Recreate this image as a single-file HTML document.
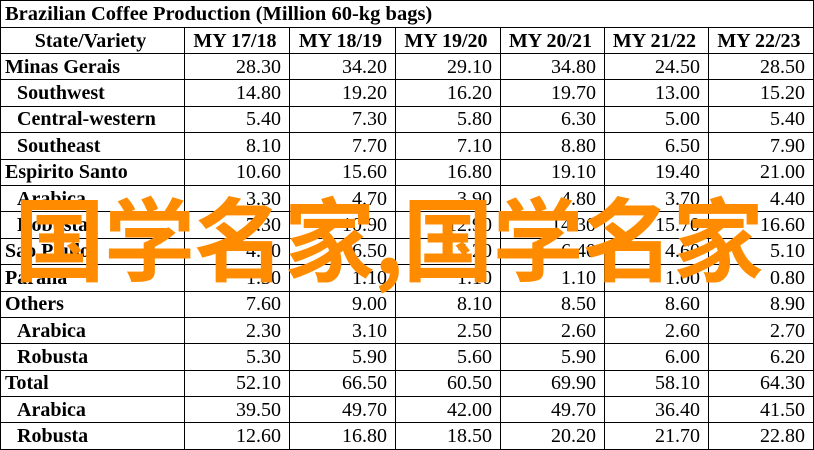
<!DOCTYPE html>
<html><head><meta charset="utf-8"><style>
body{margin:0;width:814px;height:449px;background:#fff;overflow:hidden;position:relative;font-family:"Liberation Serif",serif;}
table{position:absolute;left:0;top:0;border-collapse:collapse;table-layout:fixed;}
td{border:1.5px solid #000;height:25.4px;padding:0 8px 0 4px;font-size:20px;line-height:20px;text-align:right;white-space:nowrap;color:#000;overflow:hidden;}
td.l{text-align:left;font-weight:bold;}
td.i{text-align:left;font-weight:bold;padding-left:16px;}
tr.h td{font-weight:bold;text-align:center;height:25px;}
tr.t td{font-weight:bold;text-align:left;font-size:20.5px;height:26px;}
.wm{position:absolute;left:14px;top:180px;font-family:"Noto Sans CJK SC",sans-serif;font-weight:bold;font-size:91px;line-height:110px;color:#ff8c00;white-space:nowrap;letter-spacing:-1px;}
</style></head><body>
<table>
<colgroup><col style="width:184px"><col style="width:105px"><col style="width:106px"><col style="width:105px"><col style="width:104px"><col style="width:104px"><col style="width:105px"></colgroup>
<tr class="t"><td colspan="7">Brazilian Coffee Production (Million 60-kg bags)</td></tr>
<tr class="h"><td>State/Variety</td><td>MY 17/18</td><td>MY 18/19</td><td>MY 19/20</td><td>MY 20/21</td><td>MY 21/22</td><td>MY 22/23</td></tr>
<tr><td class="l">Minas Gerais</td><td>28.30</td><td>34.20</td><td>29.10</td><td>34.80</td><td>24.50</td><td>28.50</td></tr>
<tr><td class="i">Southwest</td><td>14.80</td><td>19.20</td><td>16.20</td><td>19.70</td><td>13.00</td><td>15.20</td></tr>
<tr><td class="i">Central-western</td><td>5.40</td><td>7.30</td><td>5.80</td><td>6.30</td><td>5.00</td><td>5.40</td></tr>
<tr><td class="i">Southeast</td><td>8.10</td><td>7.70</td><td>7.10</td><td>8.80</td><td>6.50</td><td>7.90</td></tr>
<tr><td class="l">Espirito Santo</td><td>10.60</td><td>15.60</td><td>16.80</td><td>19.10</td><td>19.40</td><td>21.00</td></tr>
<tr><td class="i">Arabica</td><td>3.30</td><td>4.70</td><td>3.90</td><td>4.80</td><td>3.70</td><td>4.40</td></tr>
<tr><td class="i">Robusta</td><td>7.30</td><td>10.90</td><td>12.90</td><td>14.30</td><td>15.70</td><td>16.60</td></tr>
<tr><td class="l">Sao Paulo</td><td>4.60</td><td>6.50</td><td>5.20</td><td>6.40</td><td>4.60</td><td>5.10</td></tr>
<tr><td class="l">Parana</td><td>1.30</td><td>1.10</td><td>1.10</td><td>1.10</td><td>1.00</td><td>0.80</td></tr>
<tr><td class="l">Others</td><td>7.60</td><td>9.00</td><td>8.10</td><td>8.50</td><td>8.60</td><td>8.90</td></tr>
<tr><td class="i">Arabica</td><td>2.30</td><td>3.10</td><td>2.50</td><td>2.60</td><td>2.60</td><td>2.70</td></tr>
<tr><td class="i">Robusta</td><td>5.30</td><td>5.90</td><td>5.60</td><td>5.90</td><td>6.00</td><td>6.20</td></tr>
<tr><td class="l">Total</td><td>52.10</td><td>66.50</td><td>60.50</td><td>69.90</td><td>58.10</td><td>64.30</td></tr>
<tr><td class="i">Arabica</td><td>39.50</td><td>49.70</td><td>42.00</td><td>49.70</td><td>36.40</td><td>41.50</td></tr>
<tr><td class="i">Robusta</td><td>12.60</td><td>16.80</td><td>18.50</td><td>20.20</td><td>21.70</td><td>22.80</td></tr>
</table>
<div class="wm">国学名家,国学名家</div>
</body></html>
